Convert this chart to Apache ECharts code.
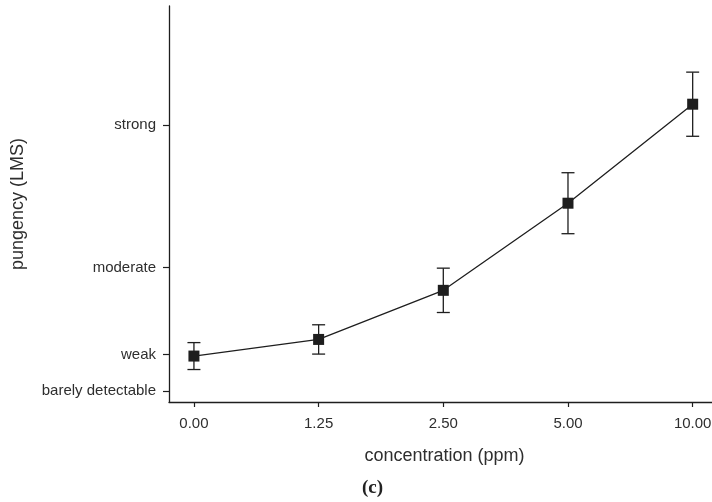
<!DOCTYPE html>
<html>
<head>
<meta charset="utf-8">
<script src="https://cdn.jsdelivr.net/npm/echarts@6/dist/echarts.min.js"></script>
<style>
  html, body { margin: 0; padding: 0; background: #fff; }
  #chart { width: 712px; height: 502px; }
</style>
</head>
<body>
<div id="chart"></div>
<script>
// Concentrations tested (evenly spaced on the axis)
const concentrations = ['0.00', '1.25', '2.50', '5.00', '10.00'];
// Mean pungency ratings on the labelled magnitude scale
const meanPungency = [5.8, 7.9, 14.1, 25.1, 37.6];
// Half-width of the error bars (same units)
const errorHalf = [1.7, 1.85, 2.8, 3.85, 4.05];
// LMS anchor positions and their verbal labels
const lmsTicks = [1.4, 6, 17, 35];
const lmsLabels = ['barely detectable', 'weak', 'moderate', 'strong'];

const ink = '#1e1e1e';
const textColor = '#2e2e2e';
const idx = concentrations.map((_, i) => i);

const linePoints = meanPungency.map((v, i) => [i, v]);
const errorData = meanPungency.map((v, i) => [i, v - errorHalf[i], v + errorHalf[i]]);

const chart = echarts.init(document.getElementById('chart'), null, { renderer: 'canvas' });

chart.setOption({
  backgroundColor: '#ffffff',
  animation: false,
  grid: { left: 169, right: 0, top: 6, bottom: 100, outerBoundsMode: 'none', containLabel: false },
  xAxis: {
    type: 'value',
    min: -0.2,
    max: 4.155,
    name: 'concentration (ppm)',
    nameLocation: 'middle',
    nameGap: 45,
    nameTextStyle: { fontFamily: 'Liberation Sans', fontSize: 18, color: textColor, padding: [0, 0, 0, 8] },
    axisLine: { show: true, onZero: false, lineStyle: { color: ink, width: 1.3 } },
    axisTick: { show: true, length: 5, inside: false, customValues: idx, lineStyle: { color: ink, width: 1.2 } },
    axisLabel: {
      customValues: idx,
      margin: 14,
      fontFamily: 'Liberation Sans', fontSize: 15, color: textColor,
      formatter: v => concentrations[Math.round(v)]
    },
    splitLine: { show: false }
  },
  yAxis: {
    type: 'value',
    min: 0,
    max: 50,
    name: 'pungency (LMS)',
    nameLocation: 'middle',
    nameGap: 142,
    nameTextStyle: { fontFamily: 'Liberation Sans', fontSize: 18, color: textColor },
    axisLine: { show: true, onZero: false, lineStyle: { color: ink, width: 1.3 } },
    axisTick: { show: true, length: 6, inside: false, customValues: lmsTicks, lineStyle: { color: ink, width: 1.2 } },
    axisLabel: {
      customValues: lmsTicks,
      margin: 13,
      fontFamily: 'Liberation Sans', fontSize: 15, color: textColor,
      formatter: v => lmsLabels[lmsTicks.indexOf(v)]
    },
    splitLine: { show: false }
  },
  graphic: [{
    type: 'text',
    left: 362,
    top: 479,
    style: {
      text: '(c)',
      font: 'bold 19px "Liberation Serif", "DejaVu Serif", serif',
      fill: '#222'
    }
  }],
  series: [
    {
      type: 'custom',
      name: 'error',
      data: errorData,
      z: 2,
      renderItem: function (params, api) {
        const x = api.value(0);
        const lo = api.coord([x, api.value(1)]);
        const hi = api.coord([x, api.value(2)]);
        const cap = 6.5;
        const style = { stroke: ink, lineWidth: 1.3, fill: null };
        return {
          type: 'group',
          children: [
            { type: 'line', shape: { x1: lo[0], y1: lo[1], x2: hi[0], y2: hi[1] }, style },
            { type: 'line', shape: { x1: hi[0] - cap, y1: hi[1], x2: hi[0] + cap, y2: hi[1] }, style },
            { type: 'line', shape: { x1: lo[0] - cap, y1: lo[1], x2: lo[0] + cap, y2: lo[1] }, style }
          ]
        };
      }
    },
    {
      type: 'line',
      name: 'pungency',
      data: linePoints,
      z: 3,
      symbol: 'rect',
      symbolSize: 11,
      lineStyle: { color: ink, width: 1.3 },
      itemStyle: { color: ink, borderWidth: 0 }
    }
  ]
});
</script>
</body>
</html>
